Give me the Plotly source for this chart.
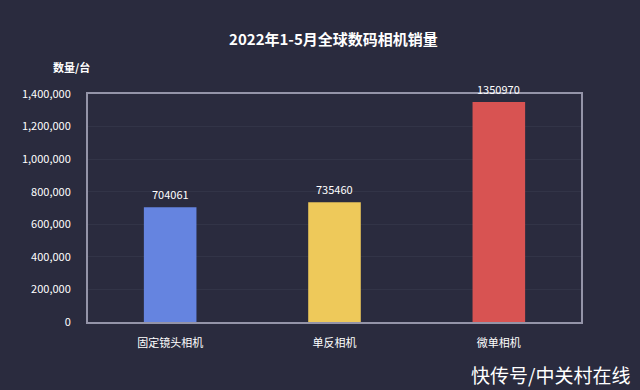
import plotly.graph_objects as go

categories = ["固定镜头相机", "单反相机", "微单相机"]
values = [704061, 735460, 1350970]
bar_colors = ["#6584e0", "#eec95a", "#d85352"]
tick_vals = [0, 200000, 400000, 600000, 800000, 1000000, 1200000, 1400000]
tick_text = ["0", "200,000", "400,000", "600,000", "800,000", "1,000,000", "1,200,000", "1,400,000"]

BG = "#2a2b3e"
FONT = "Noto Sans CJK SC"

fig = go.Figure(go.Bar(
    x=categories, y=values,
    marker=dict(color=bar_colors, line=dict(width=0)),
    hoverinfo="x+y",
))

annotations = [
    dict(text="<b>数量/台</b>", xref="paper", yref="paper", x=-0.034, y=1.118,
         xanchor="center", yanchor="middle", showarrow=False,
         font=dict(size=11, color="#ffffff")),
    dict(text="快传号/中关村在线", xref="paper", yref="paper", x=1.103, y=-0.232,
         xanchor="right", yanchor="middle", showarrow=False,
         font=dict(size=19, color="#ffffff")),
]
for c, v in zip(categories, values):
    annotations.append(dict(text=str(v), x=c, y=v, xref="x", yref="y",
                            xanchor="center", yanchor="middle", yshift=13,
                            showarrow=False, font=dict(size=11, color="#ffffff")))

fig.update_layout(
    width=640, height=390,
    paper_bgcolor=BG, plot_bgcolor=BG,
    margin=dict(l=88, r=59, t=94, b=68),
    bargap=0.68,
    showlegend=False,
    font=dict(family=FONT, color="#ffffff", size=11),
    title=dict(text="<b>2022年1-5月全球数码相机销量</b>", x=0.521, xanchor="center",
               y=1 - 40 / 390, yanchor="middle", font=dict(size=15, color="#ffffff")),
    annotations=annotations,
)
fig.update_xaxes(showgrid=False, showline=True, linecolor="#9494a8", linewidth=2,
                 mirror=True, ticks="", ticklabelstandoff=10,
                 tickfont=dict(size=11, color="#ffffff"))
fig.update_yaxes(range=[0, 1400000], tickvals=tick_vals, ticktext=tick_text,
                 showgrid=True, gridcolor="#323447", gridwidth=1,
                 showline=True, linecolor="#9494a8", linewidth=2, mirror=True,
                 zeroline=False, ticks="", ticklabelstandoff=13,
                 tickfont=dict(size=11, color="#ffffff"))

fig.write_html("out.html", config={"displayModeBar": False},
               post_script="document.body.style.margin='0';document.body.style.background='" + BG + "';")
